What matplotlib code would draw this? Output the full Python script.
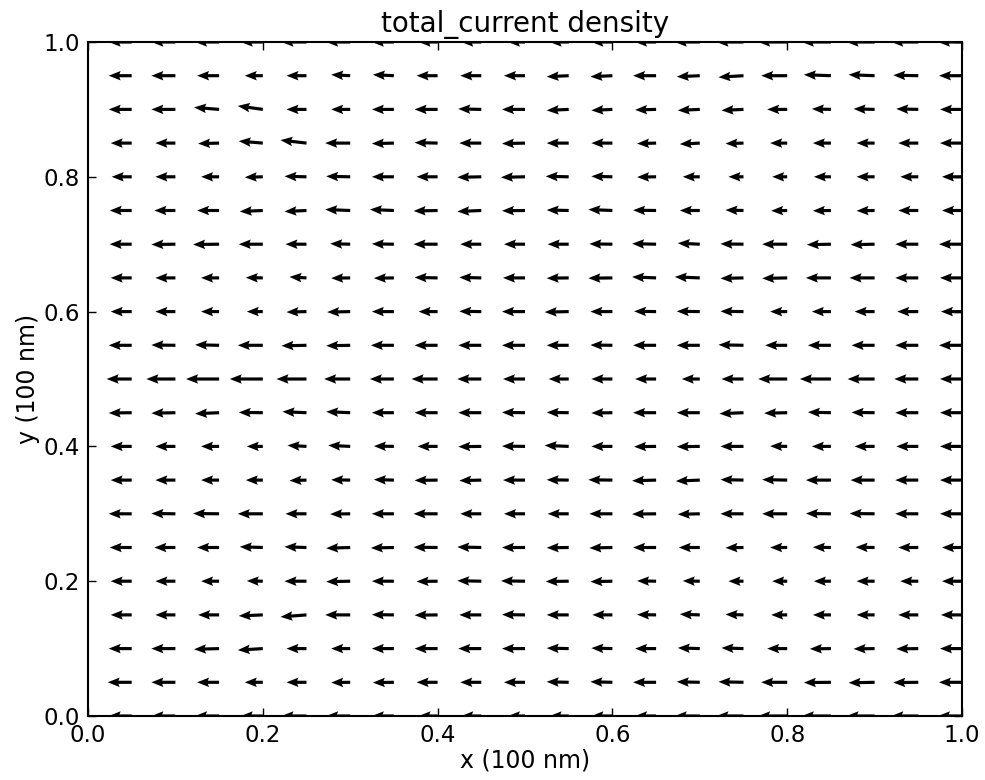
import numpy as np
import matplotlib
matplotlib.use("Agg")
import matplotlib.pyplot as plt

# grid of sample points (tails of the arrows)
x_vals = [0.05, 0.10, 0.15, 0.20, 0.25, 0.30, 0.35, 0.40, 0.45, 0.50,
          0.55, 0.60, 0.65, 0.70, 0.75, 0.80, 0.85, 0.90, 0.95, 1.00]
y_vals = [1.00, 0.95, 0.90, 0.85, 0.80, 0.75, 0.70, 0.65, 0.60, 0.55, 0.50,
          0.45, 0.40, 0.35, 0.30, 0.25, 0.20, 0.15, 0.10, 0.05, 0.00]

# x component of the total current density (rows follow y_vals)
jx = [
    [-2.3, -2.4, -2.4, -2.2, -2.5, -2.4, -2.2, -1.9, -2.0, -1.7, -1.9, -2.1, -2.1, -2.5, -2.7, -2.9, -2.9, -2.8, -2.7, -2.4],
    [-2.3, -2.4, -2.2, -1.8, -2.0, -1.9, -2.1, -2.1, -2.1, -2.1, -2.2, -2.2, -2.3, -2.3, -2.5, -2.6, -2.7, -2.6, -2.5, -2.3],
    [-2.3, -2.4, -2.5, -2.5, -2.0, -1.9, -2.2, -2.3, -2.3, -2.3, -2.2, -2.1, -2.1, -2.2, -2.2, -2.0, -1.9, -2.1, -2.2, -2.2],
    [-2.1, -2.0, -2.1, -2.4, -2.6, -2.5, -2.2, -2.3, -2.2, -2.3, -2.2, -2.1, -1.9, -2.0, -1.8, -1.7, -1.8, -1.8, -2.0, -2.2],
    [-2.0, -2.0, -1.8, -1.8, -2.2, -2.4, -2.2, -2.1, -2.4, -2.4, -2.3, -2.1, -1.9, -1.7, -1.5, -1.5, -1.7, -1.8, -1.8, -2.0],
    [-2.2, -2.1, -2.2, -2.3, -2.2, -2.5, -2.4, -2.4, -2.4, -2.3, -2.2, -2.4, -2.3, -2.0, -1.8, -1.6, -1.8, -1.8, -2.0, -2.0],
    [-2.2, -2.4, -2.6, -2.4, -2.1, -2.0, -2.2, -2.4, -2.1, -2.1, -2.1, -2.3, -2.4, -2.2, -2.3, -2.5, -2.4, -2.4, -2.3, -2.3],
    [-2.1, -2.0, -1.8, -1.7, -1.7, -1.9, -2.0, -2.3, -2.2, -2.2, -2.2, -2.4, -2.4, -2.5, -2.3, -2.5, -2.5, -2.5, -2.3, -2.2],
    [-2.1, -2.0, -1.8, -1.6, -2.0, -2.3, -2.2, -1.9, -2.2, -2.3, -2.4, -2.2, -2.2, -2.3, -2.3, -1.7, -1.9, -2.0, -2.1, -2.1],
    [-2.3, -2.4, -2.4, -2.5, -2.5, -2.4, -2.3, -2.3, -2.3, -2.3, -2.2, -2.2, -2.3, -2.3, -2.5, -2.2, -2.3, -2.3, -2.3, -2.3],
    [-2.5, -2.9, -3.3, -3.3, -3.0, -2.6, -2.4, -2.6, -2.4, -2.2, -2.0, -2.1, -2.1, -1.8, -2.2, -2.9, -3.1, -2.7, -2.4, -2.2],
    [-2.3, -2.4, -2.4, -2.4, -2.4, -2.4, -2.2, -2.3, -2.3, -2.3, -2.2, -2.1, -2.3, -2.3, -2.4, -2.3, -2.3, -2.3, -2.3, -2.2],
    [-2.1, -2.0, -1.8, -1.6, -1.9, -2.2, -2.0, -2.0, -2.3, -2.3, -2.4, -2.1, -2.2, -2.3, -2.3, -1.7, -1.9, -2.0, -2.2, -2.2],
    [-2.1, -2.0, -1.8, -1.7, -1.7, -1.9, -2.0, -2.3, -2.2, -2.2, -2.2, -2.4, -2.4, -2.4, -2.3, -2.5, -2.5, -2.4, -2.3, -2.2],
    [-2.3, -2.4, -2.6, -2.5, -2.1, -2.0, -2.2, -2.4, -2.1, -2.1, -2.1, -2.3, -2.4, -2.2, -2.3, -2.5, -2.5, -2.5, -2.3, -2.2],
    [-2.2, -2.1, -2.2, -2.3, -2.2, -2.4, -2.3, -2.4, -2.4, -2.3, -2.2, -2.3, -2.3, -2.1, -1.8, -1.7, -1.8, -1.9, -2.0, -2.0],
    [-2.1, -2.0, -1.8, -1.6, -2.2, -2.4, -2.2, -2.1, -2.4, -2.4, -2.3, -2.2, -1.9, -1.7, -1.5, -1.5, -1.7, -1.8, -1.8, -2.0],
    [-2.1, -2.0, -2.1, -2.4, -2.6, -2.5, -2.2, -2.3, -2.2, -2.3, -2.2, -2.0, -1.9, -2.0, -1.8, -1.6, -1.8, -1.8, -2.0, -2.1],
    [-2.3, -2.4, -2.5, -2.5, -2.0, -1.9, -2.2, -2.3, -2.3, -2.3, -2.2, -2.1, -2.1, -2.2, -2.2, -2.0, -2.1, -2.1, -2.2, -2.2],
    [-2.4, -2.4, -2.2, -1.8, -2.0, -1.9, -2.1, -2.1, -2.1, -2.1, -2.2, -2.2, -2.3, -2.3, -2.5, -2.6, -2.7, -2.6, -2.5, -2.3],
    [-2.3, -2.4, -2.4, -2.2, -2.5, -2.4, -2.2, -1.9, -2.0, -1.7, -1.9, -2.1, -2.1, -2.5, -2.7, -2.9, -2.9, -2.8, -2.7, -2.4],
]

# y component of the total current density (rows follow y_vals)
jy = [
    [0.0, 0.0, 0.0, 0.0, 0.0, 0.0, 0.0, 0.0, 0.0, 0.0, 0.0, 0.0, 0.0, 0.0, 0.0, 0.0, 0.0, 0.0, 0.0, 0.0],
    [0.0, 0.0, 0.0, 0.0, 0.0, 0.1, 0.1, 0.0, 0.0, 0.0, -0.1, -0.1, 0.0, -0.1, -0.15, 0.0, 0.1, 0.1, 0.05, 0.0],
    [0.0, 0.0, 0.2, 0.35, 0.0, 0.0, 0.0, 0.0, 0.05, 0.0, -0.1, -0.1, -0.05, -0.1, -0.1, 0.0, 0.05, 0.05, 0.05, 0.0],
    [0.0, 0.0, -0.05, 0.2, 0.3, 0.0, -0.05, 0.05, 0.0, -0.05, 0.0, 0.0, -0.05, -0.1, -0.05, 0.0, 0.0, 0.0, 0.0, 0.0],
    [0.0, 0.0, 0.0, -0.05, 0.05, 0.05, 0.0, 0.0, -0.05, -0.05, 0.05, 0.05, -0.03, 0.0, 0.0, 0.0, 0.0, 0.0, 0.0, 0.0],
    [0.0, 0.0, 0.0, -0.1, -0.1, 0.1, 0.1, -0.05, -0.1, -0.03, 0.05, 0.1, 0.03, 0.0, 0.05, -0.03, -0.03, -0.03, 0.0, 0.0],
    [0.0, -0.03, -0.03, 0.0, 0.0, 0.05, 0.03, 0.0, 0.0, 0.0, 0.0, 0.03, 0.05, 0.1, 0.03, 0.0, -0.05, -0.05, 0.0, 0.0],
    [0.0, 0.0, 0.0, 0.03, 0.1, -0.03, -0.03, 0.05, 0.05, 0.0, -0.03, -0.03, 0.1, 0.1, -0.05, -0.05, 0.0, 0.0, 0.0, 0.0],
    [0.0, 0.0, 0.0, 0.0, -0.05, -0.05, 0.0, 0.0, 0.03, 0.0, -0.05, 0.0, 0.03, 0.03, 0.03, 0.0, 0.0, 0.0, 0.0, 0.0],
    [0.0, 0.03, 0.05, 0.0, -0.05, -0.05, 0.0, 0.0, 0.0, 0.0, 0.0, 0.03, 0.0, 0.0, 0.05, 0.0, 0.0, 0.0, 0.0, 0.0],
    [0.0, 0.0, 0.0, 0.0, 0.0, 0.0, 0.0, 0.0, 0.0, 0.0, 0.0, 0.0, 0.0, 0.0, 0.0, 0.0, 0.0, 0.0, 0.0, 0.0],
    [-0.03, -0.05, -0.1, 0.03, 0.1, 0.1, 0.0, 0.0, 0.0, 0.03, 0.03, -0.03, 0.0, 0.0, -0.1, -0.05, 0.05, 0.03, 0.0, 0.0],
    [0.0, 0.0, 0.0, 0.0, 0.1, 0.1, 0.03, 0.0, -0.03, 0.03, 0.1, 0.0, -0.03, -0.03, 0.0, 0.03, 0.0, 0.0, 0.0, 0.0],
    [0.0, 0.0, 0.0, 0.0, -0.05, 0.03, 0.05, -0.03, -0.05, 0.0, 0.03, 0.03, -0.07, -0.1, 0.05, 0.05, 0.0, 0.0, 0.0, 0.0],
    [0.0, 0.03, 0.03, 0.0, 0.0, -0.03, 0.0, 0.0, 0.0, 0.0, 0.0, 0.0, -0.03, -0.05, 0.0, 0.0, 0.03, 0.03, 0.0, 0.0],
    [0.0, 0.0, 0.0, 0.07, 0.07, -0.07, -0.05, 0.03, 0.05, 0.0, -0.03, -0.05, 0.0, 0.0, -0.03, 0.0, 0.03, 0.03, 0.0, 0.0],
    [0.0, 0.0, 0.0, 0.03, 0.0, -0.05, 0.0, -0.03, 0.05, 0.03, -0.03, -0.05, 0.03, 0.03, 0.0, 0.0, 0.0, 0.0, 0.0, 0.0],
    [0.0, 0.0, 0.0, -0.1, -0.2, 0.0, 0.03, -0.03, 0.0, 0.03, 0.0, 0.0, 0.03, 0.07, 0.05, 0.0, 0.0, 0.0, 0.0, 0.0],
    [0.0, 0.0, -0.07, -0.15, 0.0, 0.0, 0.0, 0.0, 0.0, 0.0, 0.05, 0.05, 0.0, 0.07, 0.07, 0.0, -0.03, -0.03, -0.03, 0.0],
    [0.0, 0.0, 0.0, 0.0, 0.0, -0.03, -0.03, 0.0, 0.0, 0.0, 0.05, 0.05, 0.0, 0.05, 0.05, 0.0, -0.03, -0.05, -0.03, 0.0],
    [0.0, 0.0, 0.0, 0.0, 0.0, 0.0, 0.0, 0.0, 0.0, 0.0, 0.0, 0.0, 0.0, 0.0, 0.0, 0.0, 0.0, 0.0, 0.0, 0.0],
]

tick_vals = [0.0, 0.2, 0.4, 0.6, 0.8, 1.0]
tick_labels = ["0.0", "0.2", "0.4", "0.6", "0.8", "1.0"]

plt.rcParams['font.family'] = ['DejaVu Sans']

fig = plt.figure(figsize=(9.85, 7.8), dpi=100)
ax = fig.add_axes([88 / 985, 1 - 716 / 780, (962 - 88) / 985, (716 - 42) / 780])

X, Y = np.meshgrid(np.array(x_vals), np.array(y_vals))
U = np.array(jx)
V = np.array(jy)

ax.quiver(X, Y, U, V, angles='uv', scale_units='dots', scale=0.1,
          color='black', pivot='tail', width=0.0036,
          headwidth=3, headlength=3.8, headaxislength=3.4)

ax.set_xlim(0, 1)
ax.set_ylim(0, 1)
ax.set_xticks(tick_vals)
ax.set_xticklabels(tick_labels)
ax.set_yticks(tick_vals)
ax.set_yticklabels(tick_labels)
ax.tick_params(direction='in', top=True, right=True, length=6, width=1,
               labelsize=16.5, pad=6)
for sp in ax.spines.values():
    sp.set_linewidth(1.5)

ax.set_title("total_current density", fontsize=20, pad=7)
ax.set_xlabel("x (100 nm)", fontsize=17, labelpad=1)
ax.set_ylabel("y (100 nm)", fontsize=17, labelpad=2)

fig.savefig("out.png", dpi=100, facecolor='white')
